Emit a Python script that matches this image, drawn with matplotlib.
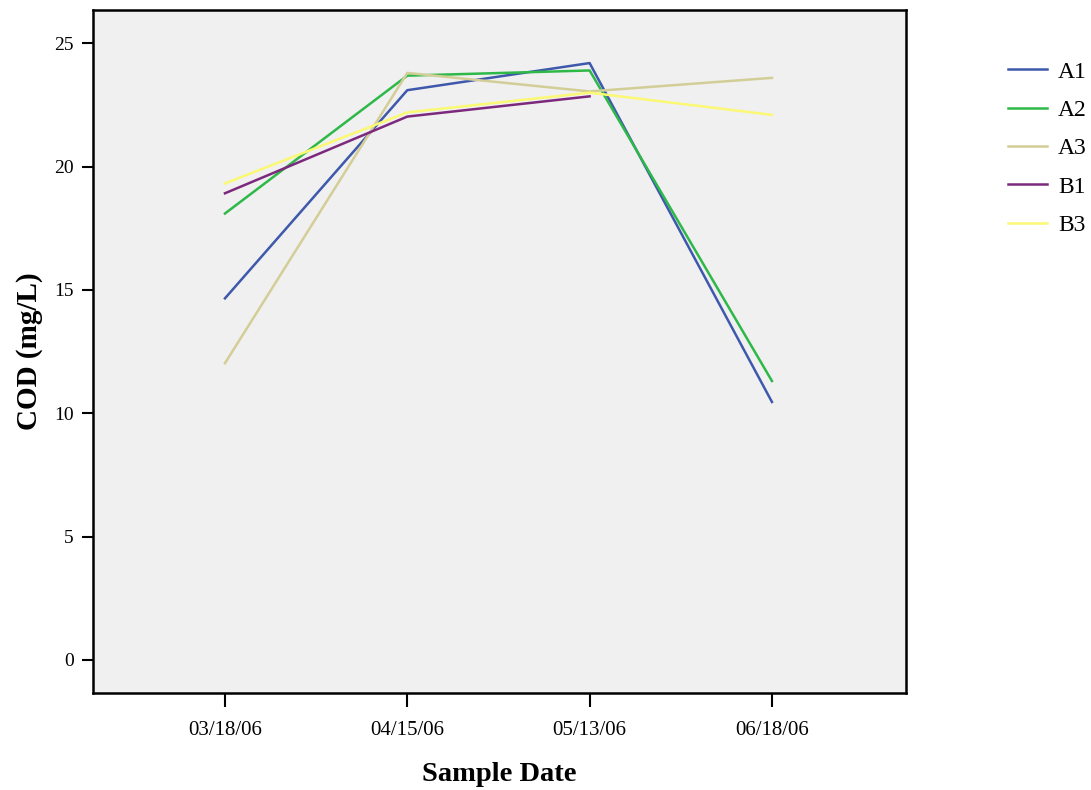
import matplotlib
matplotlib.use("Agg")
import matplotlib.pyplot as plt
import numpy as np

dates = ["03/18/06", "04/15/06", "05/13/06", "06/18/06"]
A1 = [14.66, 23.1, 24.2, 10.46]
A2 = [18.1, 23.69, 23.9, 11.31]
A3 = [12.03, 23.8, 23.05, 23.6]
B1 = [18.92, 22.03, 22.85, np.nan]
B3 = [19.32, 22.2, 23.0, 22.1]

series = [("A1", A1, "#3e58ac"), ("A2", A2, "#2eb848"), ("A3", A3, "#d3ce97"),
          ("B1", B1, "#7c287d"), ("B3", B3, "#fbf873")]

plt.rcParams['font.family'] = ['Liberation Serif', 'DejaVu Serif']

fig = plt.figure(figsize=(10.91, 7.90), dpi=100)
ax = fig.add_axes([0.0852, 0.1228, 0.7452, 0.8645])
ax.set_facecolor("#f0f0f0")
x = np.arange(len(dates))
for name, vals, c in series:
    ax.plot(x, vals, color=c, lw=1.8, label=name)

ax.set_xlim(-0.724, 3.735)
ax.set_ylim(-1.34, 26.35)
ax.set_xticks(x)
ax.set_xticklabels(dates, fontsize=15)
ax.set_yticks([0, 5, 10, 15, 20, 25])
ax.tick_params(axis='y', labelsize=14, length=8, width=1.5, direction='out', pad=6)
ax.tick_params(axis='x', length=10, width=1.5, direction='out', pad=10)
for s in ax.spines.values():
    s.set_linewidth(1.8)
    s.set_color("black")

ax.set_xlabel("Sample Date", fontsize=20.5, fontweight='bold', labelpad=16)
ax.set_ylabel("COD (mg/L)", fontsize=21, fontweight='bold', labelpad=8)

leg = ax.legend(loc='upper left', bbox_to_anchor=(1.114, 0.939), frameon=False,
                fontsize=17, handlelength=1.65, handletextpad=0.47, labelspacing=0.71,
                borderaxespad=0)

fig.savefig("out.png", dpi=100)
